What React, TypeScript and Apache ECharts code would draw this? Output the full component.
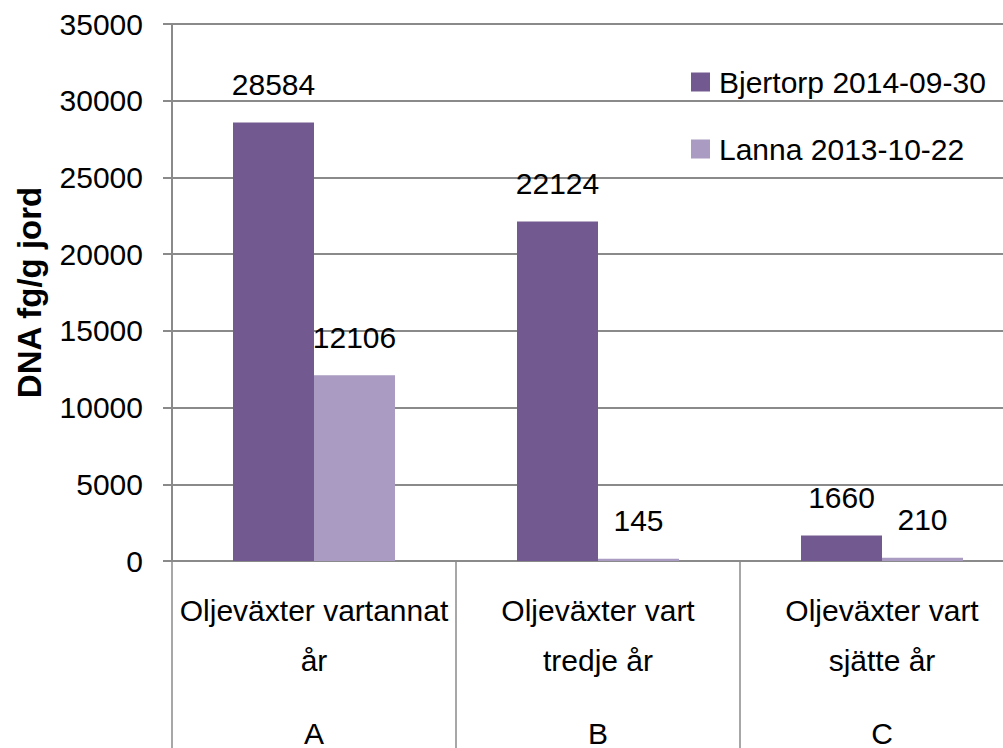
import React, { useEffect, useRef } from "react";
import * as echarts from "echarts";

const categories = ["Oljeväxter vartannat\når", "Oljeväxter vart\ntredje år", "Oljeväxter vart\nsjätte år"];
const groupLetters = ["A", "B", "C"];
const seriesNames = ["Bjertorp 2014-09-30", "Lanna 2013-10-22"];
const bjertorp = [28584, 22124, 1660];
const lanna = [12106, 145, 210];
const yTicks = { min: 0, max: 35000, interval: 5000 };

const FONT = "'Liberation Sans', Arial, sans-serif";
const GRID_COLOR = "#8a8a8a";

export default function App() {
  const ref = useRef<HTMLDivElement>(null);
  useEffect(() => {
    if (!ref.current) return;
    const chart = echarts.init(ref.current, undefined, { renderer: "svg" });
    const labelStyle = {
      show: true,
      position: "top",
      distance: 23,
      color: "#000",
      fontSize: 30,
      fontFamily: FONT,
    };
    chart.setOption({
      animation: false,
      backgroundColor: "#fff",
      textStyle: { fontFamily: FONT },
      grid: { left: 172, top: 24, right: 0, bottom: 187, containLabel: false },
      legend: {
        orient: "vertical",
        left: 686,
        top: 62,
        itemWidth: 19,
        itemHeight: 19,
        itemGap: 37,
        icon: "rect",
        data: seriesNames,
        textStyle: { fontSize: 30, color: "#000", fontFamily: FONT, lineHeight: 30, padding: [0, 0, 0, 4] },
      },
      xAxis: [
        {
          type: "category",
          data: categories,
          position: "bottom",
          axisLine: { show: true, lineStyle: { color: GRID_COLOR, width: 2 } },
          axisTick: { show: true, length: 190, interval: 0, lineStyle: { color: GRID_COLOR, width: 1.5 } },
          axisLabel: {
            interval: 0,
            margin: 24,
            fontSize: 30,
            lineHeight: 50,
            color: "#000",
            fontFamily: FONT,
          },
        },
        {
          type: "category",
          data: groupLetters,
          position: "bottom",
          axisLine: { show: false },
          axisTick: { show: false },
          axisLabel: { interval: 0, margin: 157, fontSize: 30, lineHeight: 30, color: "#000", fontFamily: FONT },
        },
      ],
      yAxis: {
        type: "value",
        min: yTicks.min,
        max: yTicks.max,
        interval: yTicks.interval,
        name: "DNA fg/g jord",
        nameLocation: "middle",
        nameRotate: 90,
        nameGap: 126,
        nameTextStyle: { fontSize: 33, fontWeight: "bold", color: "#000", fontFamily: FONT },
        axisLine: { show: true, lineStyle: { color: GRID_COLOR, width: 2 } },
        axisTick: { show: true, length: 9, lineStyle: { color: GRID_COLOR, width: 2 } },
        splitLine: { show: true, lineStyle: { color: GRID_COLOR, width: 2 } },
        axisLabel: {
          margin: 29,
          fontSize: 30,
          color: "#000",
          fontFamily: FONT,
          formatter: (v: number) => String(v),
        },
      },
      series: [
        {
          name: seriesNames[0],
          type: "bar",
          data: bjertorp,
          barWidth: 81,
          barGap: "0%",
          itemStyle: { color: "#725a90" },
          label: labelStyle,
        },
        {
          name: seriesNames[1],
          type: "bar",
          data: lanna,
          barWidth: 81,
          barGap: "0%",
          itemStyle: { color: "#a99bc1" },
          label: labelStyle,
        },
      ],
    });
    return () => chart.dispose();
  }, []);
  return (
    <div
      style={{
        position: "absolute",
        left: 0,
        top: 0,
        width: 1003,
        height: 748,
        overflow: "hidden",
        background: "#fff",
      }}
    >
      <div ref={ref} style={{ width: 1024, height: 748 }} />
    </div>
  );
}
